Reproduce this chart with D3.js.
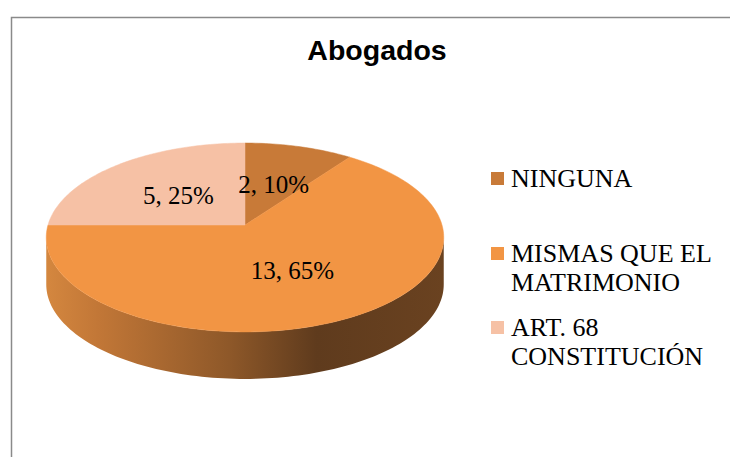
<!DOCTYPE html>
<html>
<head>
<meta charset="utf-8">
<script src="https://cdn.jsdelivr.net/npm/d3@7"></script>
<style>
  body { margin: 0; background: #fff; }
  svg { display: block; }
</style>
</head>
<body>
<script>
// Data
var categories = ["NINGUNA", "MISMAS QUE EL MATRIMONIO", "ART. 68 CONSTITUCIÓN"];
var values = [2, 13, 5];
var legendLines = [["NINGUNA"], ["MISMAS QUE EL", "MATRIMONIO"], ["ART. 68", "CONSTITUCIÓN"]];
var sliceColors = ["#c87a38", "#f29544", "#f6c1a5"];
var chartTitle = "Abogados";

var width = 730, height = 457;

var svg = d3.select("body").append("svg")
    .attr("width", width)
    .attr("height", height);

// chart frame (runs off the right / bottom edge)
svg.append("rect")
    .attr("x", 11.5).attr("y", 17.5)
    .attr("width", 740).attr("height", 460)
    .attr("fill", "none")
    .attr("stroke", "#8a8a8a")
    .attr("stroke-width", 1.5);

svg.append("text")
    .attr("x", 377).attr("y", 60)
    .attr("text-anchor", "middle")
    .style("font-family", "'Liberation Sans', Arial, sans-serif")
    .style("font-weight", "bold")
    .style("font-size", "28.5px")
    .text(chartTitle);

// 3D pie geometry (perspective tilt)
var cx = 245, cy = 225, R = 197, Ry = 92.8, k = 0.132, depth = 47;

function proj(theta, r, drop) {
    var X = r * Math.sin(theta), Z = -r * Math.cos(theta);
    var w = 1 - k * Z;
    return [cx + R * X / w, cy + Ry * Z / w + (drop || 0)];
}

var pie = d3.pie().sort(null).value(d => d)
    .startAngle(0).endAngle(2 * Math.PI);
var arcs = pie(values);

var line = d3.line();

// gradient for the side wall
var defs = svg.append("defs");
var grad = defs.append("linearGradient")
    .attr("id", "sideGrad")
    .attr("gradientUnits", "userSpaceOnUse")
    .attr("x1", 46).attr("x2", 444).attr("y1", 0).attr("y2", 0);
[[0, "#d4873f"], [0.13, "#c27737"], [0.46, "#8e5829"], [0.68, "#5f3b1d"], [1, "#6a4220"]]
    .forEach(s => grad.append("stop").attr("offset", s[0]).attr("stop-color", s[1]));

// side wall: front half between silhouette angles
var a0 = Math.acos(-k), a1 = 2 * Math.PI - a0;
var topEdge = d3.range(0, 121).map(i => proj(a0 + (a1 - a0) * i / 120, 1, 0));
var botEdge = topEdge.map(p => [p[0], p[1] + depth]).reverse();
svg.append("path")
    .attr("d", line(topEdge.concat(botEdge)) + "Z")
    .attr("fill", "url(#sideGrad)");

// top surface slices
function slicePts(d) {
    var n = Math.max(2, Math.ceil((d.endAngle - d.startAngle) / 0.02));
    var pts = [[cx, cy]];
    for (var i = 0; i <= n; i++) {
        pts.push(proj(d.startAngle + (d.endAngle - d.startAngle) * i / n, 1, 0));
    }
    return pts;
}

svg.selectAll("path.slice")
    .data(arcs)
    .enter().append("path")
    .attr("class", "slice")
    .attr("d", d => line(slicePts(d)) + "Z")
    .attr("fill", (d, i) => sliceColors[i])
    .attr("stroke", (d, i) => sliceColors[i])
    .attr("stroke-width", 0.5);

// data labels
var total = d3.sum(values);
svg.selectAll("text.lbl")
    .data(arcs)
    .enter().append("text")
    .attr("class", "lbl")
    .attr("x", d => proj((d.startAngle + d.endAngle) / 2, 0.5, 0)[0])
    .attr("y", d => proj((d.startAngle + d.endAngle) / 2, 0.5, 0)[1] + 10)
    .attr("text-anchor", "middle")
    .style("font-family", "'Liberation Serif', 'Times New Roman', serif")
    .style("font-size", "25px")
    .style("fill", "#000")
    .text(d => d.value + ", " + Math.round(d.value / total * 100) + "%");

// legend
var legend = svg.append("g");
var itemY = [187, 262, 336];
legendLines.forEach(function(lines, i) {
    legend.append("rect")
        .attr("x", 491).attr("y", itemY[i] - 15)
        .attr("width", 13).attr("height", 13)
        .attr("fill", sliceColors[i]);
    var t = legend.append("text")
        .attr("x", 511).attr("y", itemY[i])
        .style("font-family", "'Liberation Serif', 'Times New Roman', serif")
        .style("font-size", "26px")
        .style("fill", "#000");
    lines.forEach(function(l, j) {
        t.append("tspan").attr("x", 511).attr("y", itemY[i] + j * 28.5).text(l);
    });
});
</script>
</body>
</html>
